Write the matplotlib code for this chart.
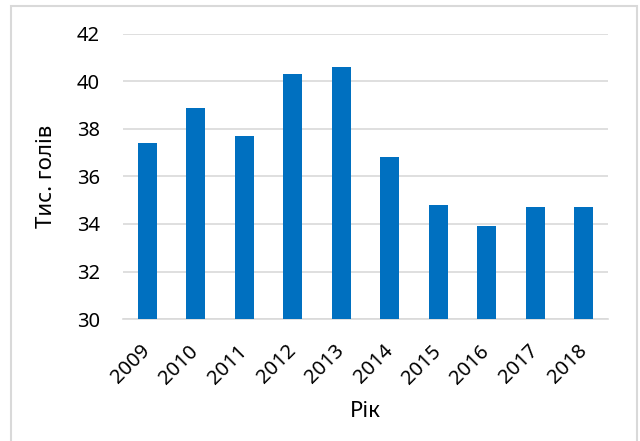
import matplotlib
matplotlib.use("Agg")
import matplotlib.pyplot as plt
from matplotlib.patches import Rectangle

# Data
years = ["2009", "2010", "2011", "2012", "2013", "2014", "2015", "2016", "2017", "2018"]
heads = [37.4, 38.9, 37.7, 40.3, 40.6, 36.8, 34.8, 33.9, 34.7, 34.7]
y_ticks = [30, 32, 34, 36, 38, 40, 42]

plt.rcParams["font.family"] = ["Noto Sans", "DejaVu Sans"]

fig = plt.figure(figsize=(6.4, 4.41), dpi=100)
ax = fig.add_axes([0.192, 0.2766, 0.758, 0.6464])

# chart border like the spreadsheet frame
fig.patches.append(Rectangle((11 / 640, -0.05), 626 / 640, 1 - 6 / 441 + 0.05,
                             transform=fig.transFigure, fill=False,
                             edgecolor="#d9d9d9", linewidth=1.5))

x = range(len(years))
ax.bar(x, heads, width=0.39, color="#0070C0", zorder=3)

ax.set_ylim(30, 42)
ax.set_xlim(-0.5, len(years) - 0.5)
ax.set_yticks(y_ticks)
ax.set_xticks(list(x))
ax.set_xticklabels(years, rotation=45, ha="right", va="center",
                   rotation_mode="anchor", fontsize=14.5)
ax.tick_params(axis="y", labelsize=14.5, length=0, pad=16.5)
ax.tick_params(axis="x", length=0, pad=21)

ax.grid(axis="y", color="#d9d9d9", linewidth=1.2, zorder=0)
for side in ["top", "right", "left"]:
    ax.spines[side].set_visible(False)
ax.spines["bottom"].set_color("#d9d9d9")
ax.spines["bottom"].set_linewidth(1.2)

ax.set_ylabel("Тис. голів", fontsize=16, labelpad=14)
ax.set_xlabel("Рік", fontsize=16, labelpad=9)

fig.savefig("out.png", dpi=100)
